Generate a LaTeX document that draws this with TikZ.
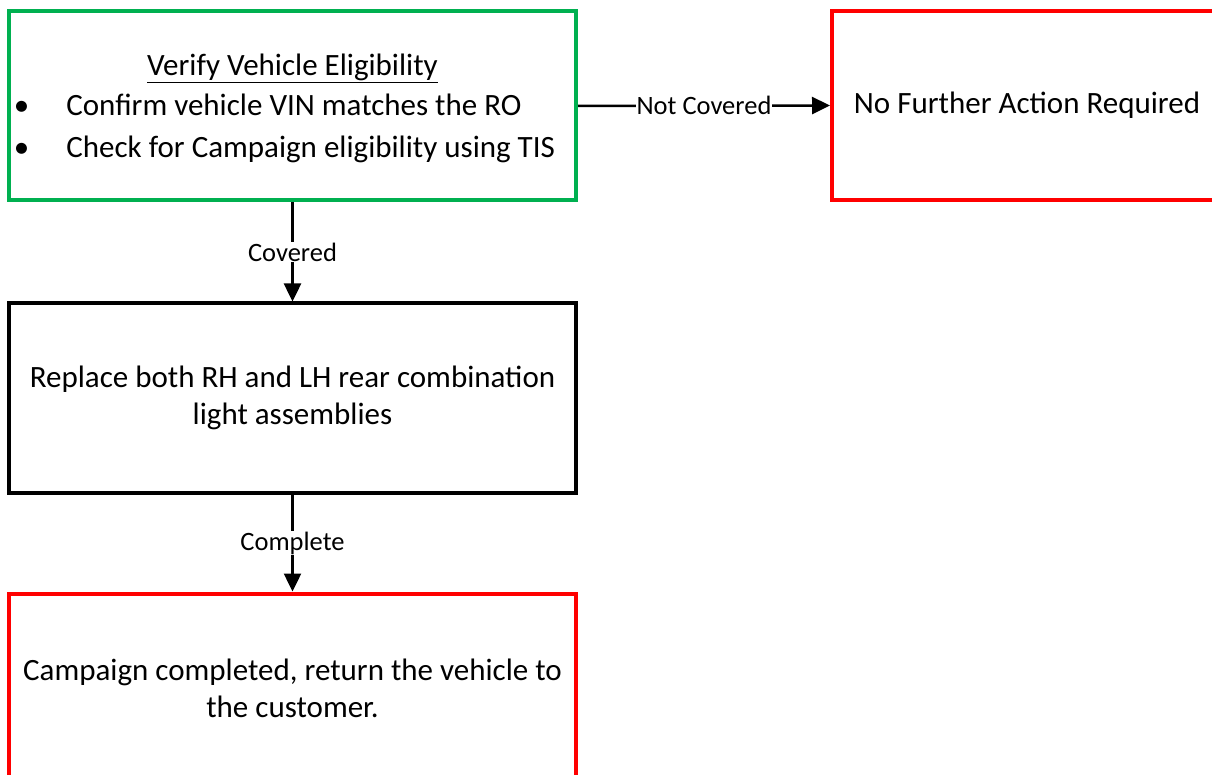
\documentclass[tikz,border=0pt]{standalone}
\usepackage{fontspec}
\setmainfont{Carlito}
\usetikzlibrary{arrows.meta}
\definecolor{boxgreen}{RGB}{0,176,80}
\definecolor{boxred}{RGB}{255,0,0}
\tikzset{
  flowbox/.style={draw, line width=4pt, minimum width=567pt, minimum height=189pt, inner sep=0pt, align=center, font=\fontsize{31}{37}\selectfont},
  conn/.style={line width=2.5pt, -{Triangle[length=18pt,width=17pt]}},
  lbl/.style={fill=white, inner sep=1pt, font=\fontsize{26.5}{31}\selectfont}
}
\begin{document}
\begin{tikzpicture}[x=1pt,y=-1pt]
\useasboundingbox (0,0) rectangle (1212,775);
\clip (0,0) rectangle (1212,775);
\node[flowbox, draw=boxgreen] (verify) at (292.5,106) {%
  \rule{0pt}{32pt}\underline{Verify Vehicle Eligibility}\\[5pt]
  \begin{tabular}{@{}l@{\hspace{37pt}}l@{}}
  \textbullet & Confirm vehicle VIN matches the RO\\[5pt]
  \textbullet & Check for Campaign eligibility using TIS
  \end{tabular}\hspace*{16pt}\null};
\node[flowbox, draw=boxred, minimum width=390pt] (nofurther) at (1027,105.5) {No Further Action Required};
\node[flowbox, draw=black] (replace) at (292.5,398) {Replace both RH and LH rear combination\\light assemblies};
\node[flowbox, draw=boxred] (done) at (292.5,688) {Campaign completed, return the vehicle to\\the customer.};
\draw[conn] (verify.east) -- node[lbl] {Not Covered} (nofurther.west);
\draw[conn] (verify.south) -- node[lbl] {Covered} (replace.north);
\draw[conn] (replace.south) -- node[lbl] {Complete} (done.north);
\end{tikzpicture}
\end{document}
